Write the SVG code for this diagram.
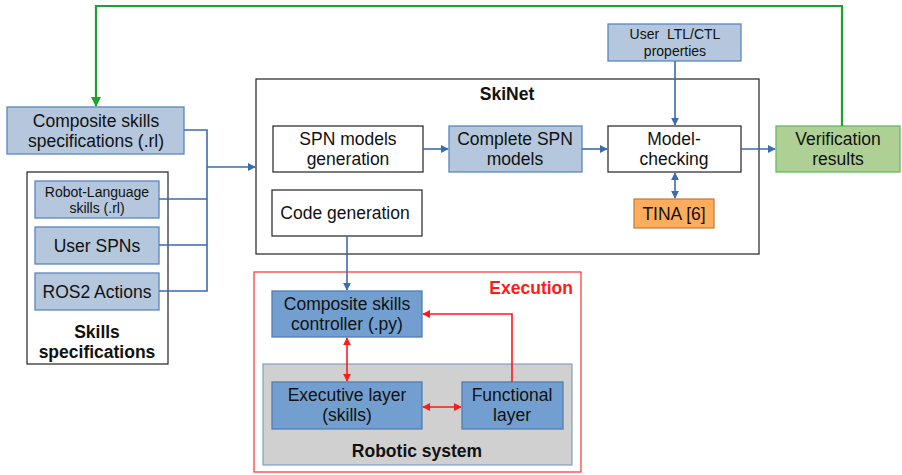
<svg xmlns="http://www.w3.org/2000/svg" width="902" height="475" viewBox="0 0 902 475">
<defs>
<style>
text{font-family:"Liberation Sans",Arial,sans-serif;fill:#111;text-anchor:middle}
.t{font-size:17.5px}
.s{font-size:14px}
.b{font-weight:bold;font-size:17.5px}
.lb{fill:#b4c7dc;stroke:#5b86c0;stroke-width:1.3}
.mb{fill:#729fcf;stroke:#4f7fb5;stroke-width:1.3}
.wb{fill:#fff;stroke:#222;stroke-width:1.2}
.bl{fill:none;stroke:#3d6bb0;stroke-width:1.6}
.rd{fill:none;stroke:#ff1a1a;stroke-width:1.6}
.gr{fill:none;stroke:#1aa32f;stroke-width:2.2}
</style>
<marker id="ab" viewBox="0 0 10 10" refX="9" refY="5" markerWidth="8" markerHeight="8" markerUnits="userSpaceOnUse" orient="auto-start-reverse"><path d="M0,0L10,5L0,10z" fill="#3d6bb0"/></marker>
<marker id="ar" viewBox="0 0 10 10" refX="9" refY="5" markerWidth="8" markerHeight="8" markerUnits="userSpaceOnUse" orient="auto-start-reverse"><path d="M0,0L10,5L0,10z" fill="#ff1a1a"/></marker>
<marker id="ag" viewBox="0 0 10 10" refX="9" refY="5" markerWidth="10" markerHeight="10" markerUnits="userSpaceOnUse" orient="auto-start-reverse"><path d="M0,0L10,5L0,10z" fill="#1aa32f"/></marker>
</defs>
<g id="skinet">
<rect x="256" y="79" width="503" height="175" fill="#fff" stroke="#222" stroke-width="1.2"/>
<text class="b" x="507" y="100">SkiNet</text>
</g>
<g id="execution">
<rect x="254" y="272" width="327" height="200" fill="#fff" stroke="#ff3030" stroke-width="1.2"/>
<text class="b" x="573" y="294" style="fill:#ff1a1a;text-anchor:end">Execution</text>
</g>
<g id="skills-specs">
<rect x="27" y="172" width="141" height="192" fill="#fff" stroke="#222" stroke-width="1.2"/>
<text class="b" x="97" y="338">Skills</text>
<text class="b" x="97" y="358">specifications</text>
</g>
<g id="composite-specs">
<rect class="lb" x="7" y="107" width="177" height="47"/>
<text class="t" x="96" y="127">Composite skills</text>
<text class="t" x="96" y="147">specifications (.rl)</text>
</g>
<g id="robot-language">
<rect class="lb" x="35" y="181" width="124" height="37"/>
<text class="s" x="97" y="197">Robot-Language</text>
<text class="s" x="97" y="213">skills (.rl)</text>
</g>
<g id="user-spns">
<rect class="lb" x="35" y="227" width="124" height="37"/>
<text class="t" x="97" y="252">User SPNs</text>
</g>
<g id="ros2">
<rect class="lb" x="35" y="273" width="124" height="37"/>
<text class="t" x="97" y="298">ROS2 Actions</text>
</g>
<g id="spn-gen">
<rect class="wb" x="273" y="126" width="150" height="46"/>
<text class="t" x="348" y="145">SPN models</text>
<text class="t" x="348" y="165">generation</text>
</g>
<g id="complete-spn">
<rect class="lb" x="449" y="126" width="133" height="46"/>
<text class="t" x="515" y="145">Complete SPN</text>
<text class="t" x="515" y="165">models</text>
</g>
<g id="code-gen">
<rect class="wb" x="272" y="190" width="150" height="46"/>
<text class="t" x="345" y="219">Code generation</text>
</g>
<g id="model-checking">
<rect class="wb" x="608" y="126" width="133" height="46"/>
<text class="t" x="674" y="145">Model-</text>
<text class="t" x="674" y="165">checking</text>
</g>
<g id="user-ltl">
<rect class="lb" x="608" y="24" width="133" height="37"/>
<text class="s" x="675" y="39" xml:space="preserve" style="white-space:pre">User  LTL/CTL</text>
<text class="s" x="675" y="56">properties</text>
</g>
<g id="tina">
<rect x="634" y="199" width="80" height="29" fill="#ffad5c" stroke="#c07a3a" stroke-width="1.2"/>
<text class="t" x="674" y="220">TINA [6]</text>
</g>
<g id="verification">
<rect x="776" y="126" width="124" height="46" fill="#afd095" stroke="#5cbf5c" stroke-width="1.3"/>
<text class="t" x="838" y="145">Verification</text>
<text class="t" x="838" y="165">results</text>
</g>
<g id="robotic-system">
<rect x="263" y="364" width="309" height="101" fill="#d0d0d0" stroke="#7f9fc0" stroke-width="1.2"/>
<text class="b" x="417" y="457">Robotic system</text>
</g>
<g id="controller">
<rect class="mb" x="272" y="291" width="150" height="46"/>
<text class="t" x="347" y="310">Composite skills</text>
<text class="t" x="347" y="330">controller (.py)</text>
</g>
<g id="executive">
<rect class="mb" x="272" y="382" width="150" height="47"/>
<text class="t" x="347" y="401">Executive layer</text>
<text class="t" x="347" y="421">(skills)</text>
</g>
<g id="functional">
<rect class="mb" x="462" y="382" width="101" height="47"/>
<text class="t" x="512" y="401">Functional</text>
<text class="t" x="512" y="421">layer</text>
</g>
<g id="connectors">
<path class="gr" d="M842,126V6H96V106" marker-end="url(#ag)"/>
<path class="bl" d="M184,130H207V291H159M159,199H207M159,245H207"/>
<path class="bl" d="M207,167H255" marker-end="url(#ab)"/>
<path class="bl" d="M423,149H448" marker-end="url(#ab)"/>
<path class="bl" d="M582,149H607" marker-end="url(#ab)"/>
<path class="bl" d="M741,149H775" marker-end="url(#ab)"/>
<path class="bl" d="M675,61V125" marker-end="url(#ab)"/>
<path class="bl" d="M675,173V198" marker-start="url(#ab)" marker-end="url(#ab)"/>
<path class="bl" d="M347,236V290" marker-end="url(#ab)"/>
<path class="rd" d="M347,338V381" marker-start="url(#ar)" marker-end="url(#ar)"/>
<path class="rd" d="M423,407H461" marker-start="url(#ar)" marker-end="url(#ar)"/>
<path class="rd" d="M512,382V314H423" marker-end="url(#ar)"/>
</g>
</svg>
